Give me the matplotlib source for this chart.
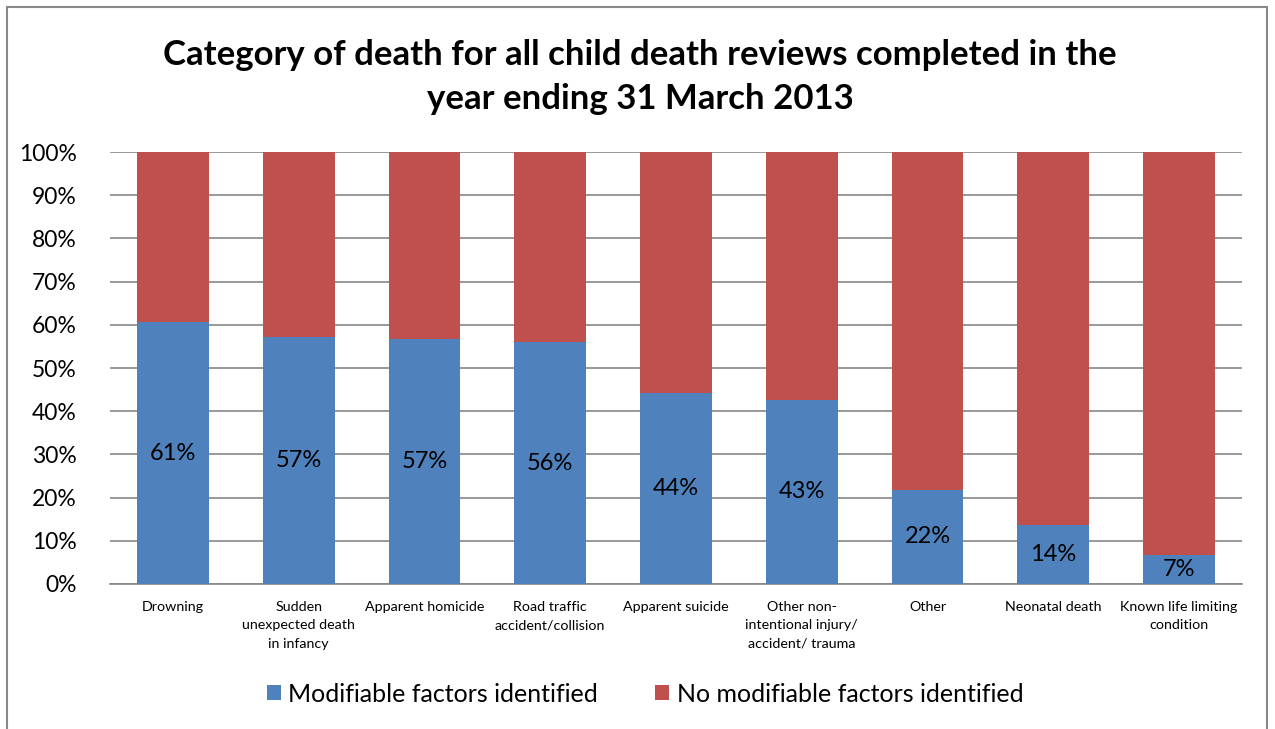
import matplotlib
matplotlib.use("Agg")
import matplotlib.pyplot as plt
from matplotlib.patches import Rectangle
import numpy as np

categories = ["Drowning", "Sudden\nunexpected death\nin infancy", "Apparent homicide",
              "Road traffic\naccident/collision", "Apparent suicide",
              "Other non-\nintentional injury/\naccident/ trauma", "Other",
              "Neonatal death", "Known life limiting\ncondition"]
modifiable = [60.6, 57.2, 56.6, 56.0, 44.2, 42.7, 21.8, 13.7, 6.8]
not_modifiable = [100 - v for v in modifiable]
yticks = [0, 10, 20, 30, 40, 50, 60, 70, 80, 90, 100]
title = "Category of death for all child death reviews completed in the\nyear ending 31 March 2013"
legend_labels = ["Modifiable factors identified", "No modifiable factors identified"]

plt.rcParams['font.family'] = ['Lato', 'DejaVu Sans']
blue = "#4F81BD"
red = "#C0504D"
grid = "#868686"

fig = plt.figure(figsize=(12.75, 7.29), dpi=100)
W, H = 1275, 729
ax = fig.add_axes([110 / W, 1 - 584 / H, (1242 - 110) / W, (584 - 152) / H])

x = np.arange(len(categories))
b1 = ax.bar(x, modifiable, width=0.57, color=blue, zorder=3, label=legend_labels[0])
b2 = ax.bar(x, not_modifiable, width=0.57, bottom=modifiable, color=red, zorder=3, label=legend_labels[1])

for xi, v in zip(x, modifiable):
    ax.text(xi, v / 2, f"{v:.0f}%", ha="center", va="center", fontsize=17, zorder=4)

ax.set_xlim(-0.5, len(categories) - 0.5)
ax.set_ylim(0, 100)
ax.set_yticks(yticks)
ax.set_yticklabels([f"{t}%" for t in yticks], fontsize=16.5)
ax.yaxis.grid(True, color=grid, linewidth=1.2, zorder=0)
ax.set_xticks(x)
ax.set_xticklabels(categories, fontsize=10.3, linespacing=1.65)
ax.tick_params(axis="x", length=0, pad=12)
ax.tick_params(axis="y", length=0, pad=24)
for s in ["top", "right", "left"]:
    ax.spines[s].set_visible(False)
ax.spines["bottom"].set_color(grid)
ax.spines["bottom"].set_linewidth(1.2)

fig.text(640 / W, 1 - 77 / H, title, ha="center", va="center", fontsize=25,
         fontweight="bold", linespacing=1.45)

fig.legend(handles=[b1, b2], labels=legend_labels, loc="center",
           bbox_to_anchor=(645 / W, 1 - 694 / H), ncol=2, frameon=False,
           fontsize=18, handlelength=0.55, handleheight=0.55, handletextpad=0.3,
           columnspacing=2.3)

fig.patches.append(Rectangle((7 / W, -0.05), (1267 - 7) / W, 1.05 - 7 / H,
                             transform=fig.transFigure, fill=False,
                             edgecolor="#888888", linewidth=1.5, clip_on=False))

fig.savefig("out.png", dpi=100)
